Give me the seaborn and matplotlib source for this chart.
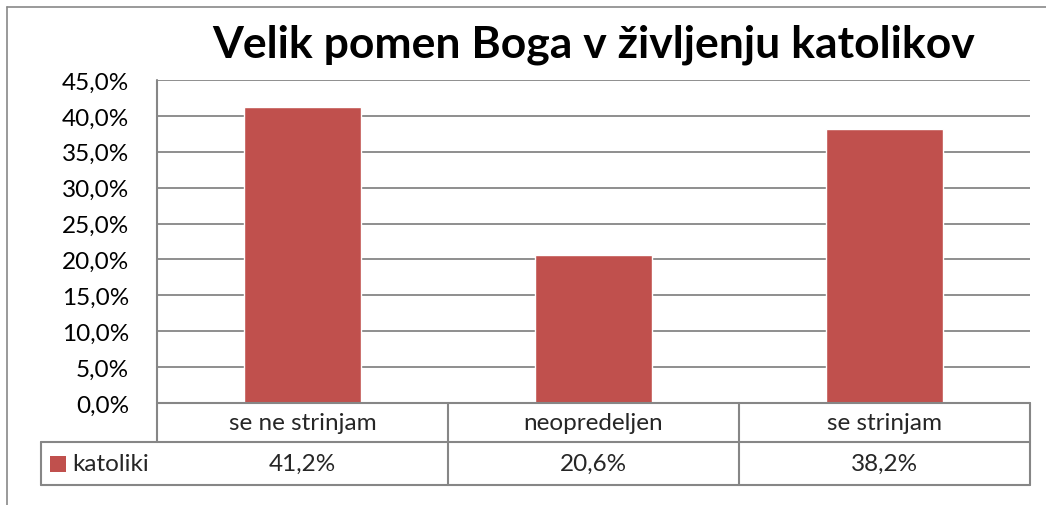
import matplotlib
matplotlib.use('Agg')
import matplotlib.pyplot as plt
import matplotlib.transforms as mtransforms
from matplotlib.lines import Line2D
from matplotlib.patches import Rectangle
import seaborn as sns
import pandas as pd

categories = ['se ne strinjam', 'neopredeljen', 'se strinjam']
katoliki = [41.2, 20.6, 38.2]
series_name = 'katoliki'
title = 'Velik pomen Boga v življenju katolikov'
y_ticks = [0, 5, 10, 15, 20, 25, 30, 35, 40, 45]

bar_color = '#C0504D'
line_color = '#868686'
fs = 17.5

sns.set_theme(style='white')
plt.rcParams['font.family'] = ['Lato', 'DejaVu Sans']

W, H = 1046, 506
fig = plt.figure(figsize=(W / 100, H / 100), dpi=100)
ax = fig.add_axes([157 / W, 1 - 404 / H, (1030 - 157) / W, (404 - 81) / H])

df = pd.DataFrame({'kategorija': categories, 'delez': katoliki})
sns.barplot(data=df, x='kategorija', y='delez', color=bar_color, width=0.4,
            saturation=1, ax=ax, zorder=3)

ax.set_xlim(-0.5, len(categories) - 0.5)
ax.set_ylim(0, 45)
ax.set_yticks(y_ticks)
ax.set_yticklabels([f'{v:.1f}%'.replace('.', ',') for v in y_ticks], fontsize=fs)
ax.tick_params(axis='y', length=0, pad=20, colors='black')
ax.set_xticks([])
ax.set_xlabel('')
ax.set_ylabel('')
for s in ['top', 'right', 'bottom', 'left']:
    ax.spines[s].set_visible(False)
for v in y_ticks[1:]:
    ax.axhline(v, color=line_color, lw=1.3, zorder=1)

ax.text(0.5, 1.074, title, transform=ax.transAxes, ha='center', va='baseline',
        fontsize=32, fontweight='bold', color='black')

# data table below the plot (axes-fraction rows, category columns)
tr = mtransforms.blended_transform_factory(ax.transData, ax.transAxes)
px = 1 / 323
r1 = -39 * px
r2 = -82 * px
left_col = -0.5 - 116 / 291
n = len(categories)
lw = 1.5
def hline(x0, x1, y):
    ax.add_line(Line2D([x0, x1], [y, y], transform=tr, color=line_color, lw=lw, clip_on=False, zorder=4))
def vline(x, y0, y1):
    ax.add_line(Line2D([x, x], [y0, y1], transform=tr, color=line_color, lw=lw, clip_on=False, zorder=4))

vline(-0.5, r1, 1)
hline(-0.5, n - 0.5, 0)
hline(left_col, n - 0.5, r1)
hline(left_col, n - 0.5, r2)
vline(left_col, r2, r1)
for i in range(n):
    vline(i + 0.5, r2, 0)

for i, (c, v) in enumerate(zip(categories, katoliki)):
    ax.text(i, r1 / 2, c, transform=tr, ha='center', va='center', fontsize=fs)
    ax.text(i, (r1 + r2) / 2, f'{v:.1f}%'.replace('.', ','), transform=tr,
            ha='center', va='center', fontsize=fs)

ax.add_patch(Rectangle((left_col + 9 / 291, (r1 + r2) / 2 - 8 * px), 16 / 291, 16 * px,
                       transform=tr, facecolor=bar_color, edgecolor='none', clip_on=False))
ax.text(left_col + 31 / 291, (r1 + r2) / 2, series_name, transform=tr,
        ha='left', va='center', fontsize=fs)

# outer chart frame (partly cropped)
fig.add_artist(Line2D([7 / W, 1], [1 - 8 / H, 1 - 8 / H], transform=fig.transFigure,
                      color='#898989', lw=1.2))
fig.add_artist(Line2D([7 / W, 7 / W], [0, 1 - 8 / H], transform=fig.transFigure,
                      color='#898989', lw=1.2))

fig.savefig('out.png', dpi=100)
